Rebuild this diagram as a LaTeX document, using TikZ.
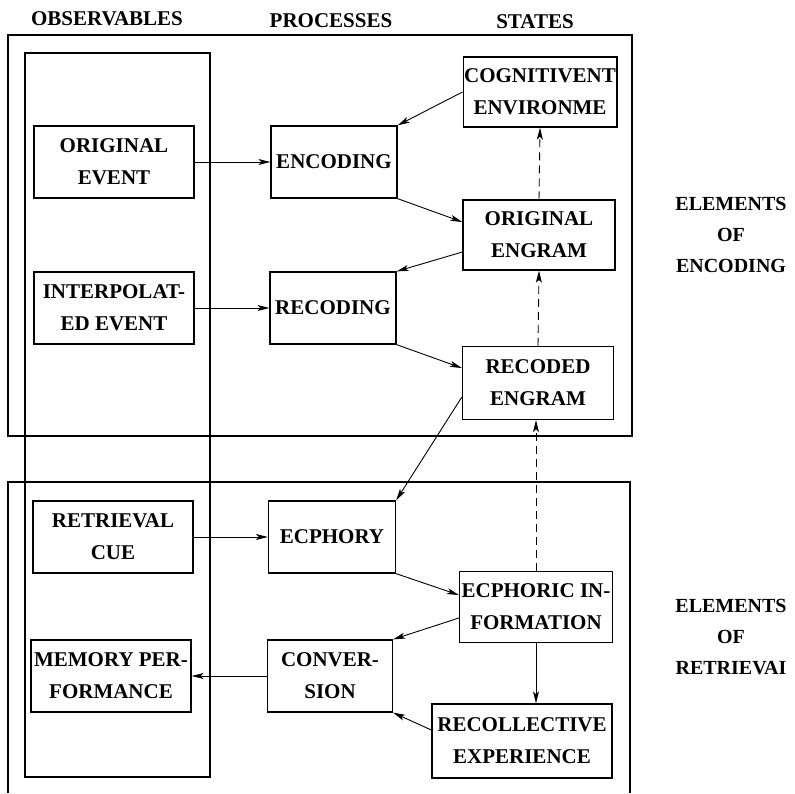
\documentclass[tikz,border=0pt]{standalone}
\usepackage{fontspec}
\setmainfont{Liberation Serif}
\usetikzlibrary{arrows.meta}

\begin{document}
\begin{tikzpicture}[x=1pt, y=-1pt,
        box/.style={rectangle, draw, line width=1.3pt, align=center, inner sep=1pt,
                    minimum height=72pt, font=\fontsize{21}{32}\selectfont\bfseries},
        hd/.style={font=\fontsize{21}{25}\selectfont\bfseries},
        side/.style={align=center, font=\fontsize{20}{31}\selectfont\bfseries},
        frame/.style={line width=1.5pt},
        arr/.style={-{Stealth[length=12pt,width=6pt,inset=3pt]}, line width=0.9pt},
        darr/.style={arr, dash pattern=on 8pt off 5pt}]
      \useasboundingbox (0,0) rectangle (795,793);

      % column heads
      \node[hd] (hobs) at (107,19) {OBSERVABLES};
      \node[hd] (hproc) at (331,21) {PROCESSES};
      \node[hd] (hstate) at (535,22) {STATES};

      % frames
      \draw[frame] (8,35) rectangle (632,436);
      \draw[frame] (8,793) -- (8,482) -- (630,482) -- (630,793);
      \draw[frame] (25,53) rectangle (210,777);

      % observables
      \node[box, minimum width=160pt] (oevent) at (114,162) {ORIGINAL\\EVENT};
      \node[box, minimum width=160pt] (ievent) at (114,308) {INTERPOLAT-\\ED EVENT};
      \node[box, minimum width=160pt] (rcue) at (113,537) {RETRIEVAL\\CUE};
      \node[box, minimum width=160pt] (mperf) at (111,676) {MEMORY PER-\\FORMANCE};

      % processes
      \node[box, minimum width=126pt] (encoding) at (334,162) {ENCODING};
      \node[box, minimum width=126pt] (recoding) at (333,308) {RECODING};
      \node[box, minimum width=127pt] (ecphory) at (332,537) {ECPHORY};
      \node[box, minimum width=125pt] (conversion) at (330,676) {CONVER-\\SION};

      % states
      \node[box, minimum width=153pt, minimum height=70pt] (cogenv) at (540,92) {COGNITIVENT\\ENVIRONME};
      \node[box, minimum width=152pt, minimum height=70pt] (oengram) at (539,235) {ORIGINAL\\ENGRAM};
      \node[box, minimum width=151pt, minimum height=73pt] (rengram) at (538,383) {RECODED\\ENGRAM};
      \node[box, minimum width=153pt, minimum height=71pt] (ecinfo) at (536,607) {ECPHORIC IN-\\FORMATION};
      \node[box, minimum width=180pt, minimum height=74pt] (recoll) at (522,741) {RECOLLECTIVE\\EXPERIENCE};

      % side labels
      \node[side] (lenc) at (731,235) {ELEMENTS\\OF\\ENCODING};
      \node[side] (lret) at (731,637) {ELEMENTS\\OF\\RETRIEVAI};

      % encoding
      \draw[arr] (oevent.east) -- (encoding.west);
      \draw[arr] (cogenv.west) -- (encoding.north east);
      \draw[arr] (encoding.south east) -- ([yshift=13pt]oengram.west);
      \draw[darr] (oengram.north) -- (cogenv.south);
      \draw[arr] ([yshift=-17pt]oengram.west) -- (recoding.north east);
      \draw[arr] (ievent.east) -- (recoding.west);
      \draw[arr] (recoding.south east) -- ([yshift=15pt]rengram.west);
      \draw[darr] (rengram.north) -- (oengram.south);

      % retrieval
      \draw[arr] ([yshift=-14pt]rengram.west) -- (ecphory.north east);
      \draw[darr] (ecinfo.north) -- (ecinfo.north |- rengram.south);
      \draw[arr] (rcue.east) -- (ecphory.west);
      \draw[arr] (ecphory.south east) -- ([yshift=12pt]ecinfo.west);
      \draw[arr] ([yshift=-11pt]ecinfo.west) -- (conversion.north east);
      \draw[arr] (ecinfo.south) -- (ecinfo.south |- recoll.north);
      \draw[arr] ([yshift=11pt]recoll.west) -- (conversion.south east);
      \draw[arr] (conversion.west) -- (mperf.east);
    \end{tikzpicture}
\end{document}
